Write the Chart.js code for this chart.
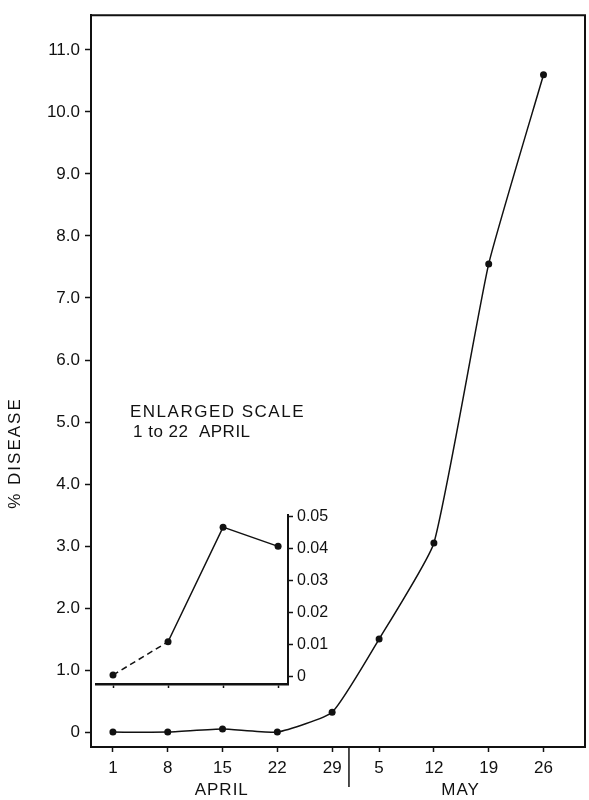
<!DOCTYPE html>
<html>
<head>
<meta charset="utf-8">
<script src="https://cdn.jsdelivr.net/npm/chart.js@4.4.1/dist/chart.umd.min.js"></script>
<style>
  html, body { margin: 0; padding: 0; background: #fff; }
  #wrap { position: relative; width: 589px; height: 800px; }
  #wrap canvas { position: absolute; left: 0; top: 0; }
</style>
</head>
<body>
<div id="wrap">
  <canvas id="mainChart" width="589" height="800"></canvas>
  <canvas id="insetChart" width="589" height="800"></canvas>
</div>
<script>
// days counted from 1 April (5 May = day 35)
const days = [1, 8, 15, 22, 29, 35, 42, 49, 56];
const disease = [0, 0, 0.05, 0, 0.32, 1.5, 3.05, 7.55, 10.6];
const dayTicks = [1, 8, 15, 22, 29, 35, 42, 49, 56];
const dayTickLabels = ["1", "8", "15", "22", "29", "5", "12", "19", "26"];
const diseaseTicks = [0, 1, 2, 3, 4, 5, 6, 7, 8, 9, 10, 11];

const insetDays = [1, 8, 15, 22];
const insetDisease = [0.0006, 0.011, 0.0468, 0.0408];
const insetTicks = [0, 0.01, 0.02, 0.03, 0.04, 0.05];

const monthLabels = ["APRIL", "MAY"];
const monthCentres = [14.9, 45.4];
const monthBreak = 31.15;

const INK = "#111";
const FONT = "'Liberation Sans', Arial, sans-serif";

const frame = {
  id: "frame",
  afterDraw(chart) {
    const { ctx, chartArea: a, scales } = chart;
    ctx.save();
    ctx.strokeStyle = INK;
    ctx.lineWidth = 2;
    ctx.beginPath();
    ctx.moveTo(a.left, a.top);
    ctx.lineTo(a.right + 1, a.top);
    ctx.moveTo(a.right, a.top);
    ctx.lineTo(a.right, a.bottom);
    ctx.stroke();

    // month separator under the axis
    const xb = scales.x.getPixelForValue(monthBreak);
    ctx.lineWidth = 1.5;
    ctx.beginPath();
    ctx.moveTo(xb, a.bottom);
    ctx.lineTo(xb, a.bottom + 40);
    ctx.stroke();

    ctx.fillStyle = INK;
    ctx.font = "17px " + FONT;
    ctx.letterSpacing = "1px";
    ctx.textAlign = "center";
    ctx.textBaseline = "middle";
    monthLabels.forEach((m, i) => {
      ctx.fillText(m, scales.x.getPixelForValue(monthCentres[i]), a.bottom + 43);
    });

    // y title
    ctx.save();
    ctx.translate(15, 453);
    ctx.rotate(-Math.PI / 2);
    ctx.letterSpacing = "2px";
    ctx.fillText("% DISEASE", 0, 0);
    ctx.restore();

    // inset caption
    ctx.textAlign = "left";
    ctx.font = "17px " + FONT;
    ctx.letterSpacing = "1.5px";
    ctx.fillText("ENLARGED SCALE", 130, 412);
    ctx.letterSpacing = "0.5px";
    ctx.fillText("1 to 22  APRIL", 133, 432);
    ctx.restore();
  }
};

new Chart(document.getElementById("mainChart"), {
  type: "line",
  data: {
    datasets: [{
      data: days.map((d, i) => ({ x: d, y: disease[i] })),
      borderColor: INK,
      backgroundColor: INK,
      borderWidth: 1.5,
      pointRadius: 3.5,
      pointBorderWidth: 0,
      tension: 0.15
    }]
  },
  options: {
    responsive: false,
    animation: false,
    layout: { padding: { left: 0, top: 7, right: 2, bottom: 8 } },
    plugins: { legend: { display: false }, tooltip: { enabled: false } },
    scales: {
      x: {
        type: "linear",
        min: -1.8,
        max: 61.3,
        afterBuildTicks: s => { s.ticks = dayTicks.map(v => ({ value: v })); },
        afterFit: s => { s.height = 45; },
        ticks: {
          color: INK,
          font: { family: FONT, size: 17 },
          padding: 6,
          maxRotation: 0,
          callback: v => dayTickLabels[dayTicks.indexOf(v)]
        },
        grid: { drawOnChartArea: false, tickLength: 5, tickColor: INK, tickWidth: 1.5 },
        border: { display: true, color: INK, width: 2 }
      },
      y: {
        min: -0.24,
        max: 11.56,
        afterBuildTicks: s => { s.ticks = diseaseTicks.map(v => ({ value: v })); },
        afterFit: s => { s.width = 91; },
        ticks: {
          color: INK,
          font: { family: FONT, size: 17 },
          padding: 5,
          callback: v => (v === 0 ? "0" : v.toFixed(1))
        },
        grid: { drawOnChartArea: false, tickLength: 6, tickColor: INK, tickWidth: 1.5 },
        border: { display: true, color: INK, width: 2 }
      }
    }
  },
  plugins: [frame]
});

new Chart(document.getElementById("insetChart"), {
  type: "line",
  data: {
    datasets: [{
      data: insetDays.map((d, i) => ({ x: d, y: insetDisease[i] })),
      borderColor: INK,
      backgroundColor: INK,
      borderWidth: 1.5,
      pointRadius: 3.5,
      pointBorderWidth: 0,
      tension: 0,
      segment: { borderDash: c => (c.p0DataIndex === 0 ? [6, 4] : undefined) }
    }]
  },
  options: {
    responsive: false,
    animation: false,
    layout: { padding: { left: 96, top: 515, right: 0, bottom: 110 } },
    plugins: { legend: { display: false }, tooltip: { enabled: false } },
    scales: {
      x: {
        type: "linear",
        min: -1.164,
        max: 23.26,
        afterBuildTicks: s => { s.ticks = insetDays.map(v => ({ value: v })); },
        afterFit: s => { s.height = 6; },
        ticks: { display: false },
        grid: { drawOnChartArea: false, tickLength: 4, tickColor: INK, tickWidth: 1.5 },
        border: { display: true, color: INK, width: 2.5 }
      },
      y: {
        position: "right",
        min: -0.0022,
        max: 0.0506,
        afterBuildTicks: s => { s.ticks = insetTicks.map(v => ({ value: v })); },
        afterFit: s => { s.width = 301; },
        ticks: {
          color: INK,
          font: { family: FONT, size: 16 },
          padding: 4,
          callback: v => (v === 0 ? "0" : v.toFixed(2))
        },
        grid: { drawOnChartArea: false, tickLength: 5, tickColor: INK, tickWidth: 1.5 },
        border: { display: true, color: INK, width: 2 }
      }
    }
  }
});
</script>
</body>
</html>
